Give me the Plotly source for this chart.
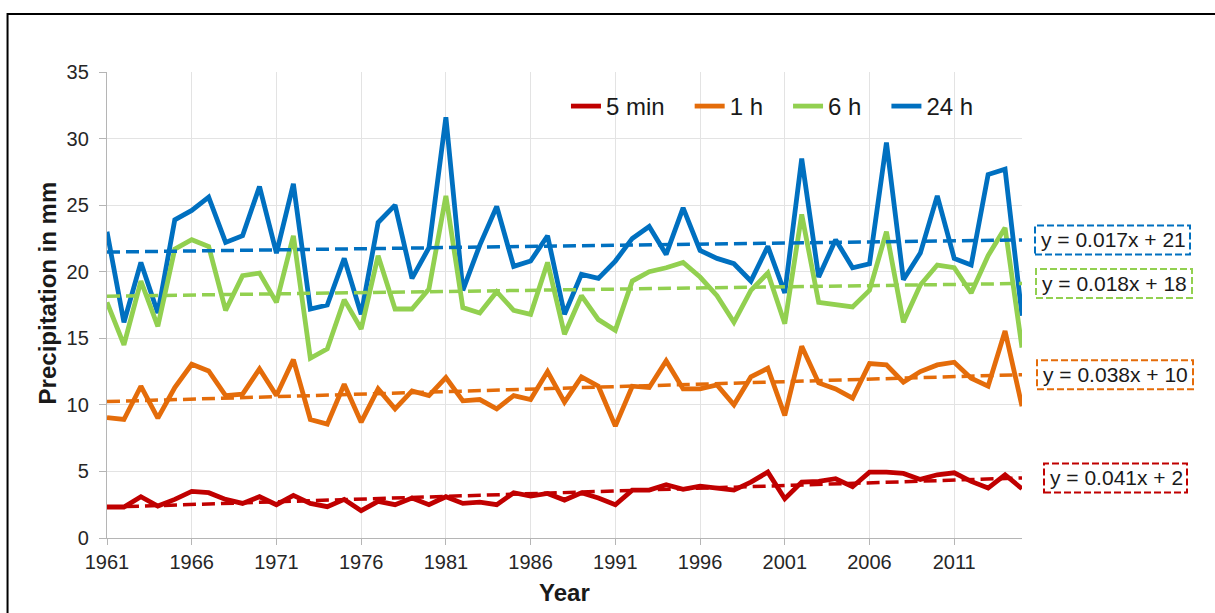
import numpy as np
import plotly.graph_objects as go

# Annual maximum precipitation by duration
years = list(range(1961, 2016))

p_5min = [2.33, 2.33, 3.1, 2.4, 2.9, 3.5, 3.4, 2.9, 2.6, 3.1,
          2.5, 3.2, 2.6, 2.35, 2.9, 2.05, 2.75, 2.5, 3.0, 2.5,
          3.1, 2.6, 2.7, 2.5, 3.4, 3.15, 3.35, 2.85, 3.4, 3.0,
          2.5, 3.6, 3.6, 4.0, 3.65, 3.9, 3.75, 3.6, 4.2, 4.95,
          2.95, 4.2, 4.25, 4.45, 3.85, 4.95, 4.95, 4.85, 4.4, 4.75,
          4.9, 4.25, 3.75, 4.75, 3.7]

p_1h = [9.05, 8.9, 11.4, 9.0, 11.3, 13.05, 12.55, 10.7, 10.8, 12.7,
        10.7, 13.4, 8.9, 8.55, 11.55, 8.7, 11.2, 9.7, 11.05, 10.7,
        12.05, 10.3, 10.4, 9.7, 10.7, 10.4, 12.5, 10.2, 12.1, 11.4,
        8.4, 11.4, 11.3, 13.3, 11.2, 11.2, 11.5, 10.0, 12.1, 12.75,
        9.2, 14.4, 11.65, 11.2, 10.5, 13.1, 13.0, 11.7, 12.5, 13.0,
        13.2, 12.0, 11.4, 15.55, 9.9]

p_6h = [17.7, 14.5, 19.3, 15.9, 21.7, 22.4, 21.9, 17.1, 19.7, 19.9,
        17.7, 22.7, 13.5, 14.2, 17.9, 15.7, 21.2, 17.2, 17.2, 18.7,
        25.7, 17.3, 16.9, 18.5, 17.1, 16.8, 20.7, 15.3, 18.2, 16.4,
        15.6, 19.3, 20.0, 20.3, 20.7, 19.6, 18.2, 16.2, 18.6, 19.9,
        16.1, 24.3, 17.7, 17.5, 17.35, 18.6, 23.0, 16.2, 19.0, 20.5,
        20.3, 18.4, 21.2, 23.3, 14.3]

p_24h = [23.0, 16.2, 20.7, 16.9, 23.9, 24.6, 25.6, 22.2, 22.7, 26.4,
         21.4, 26.6, 17.2, 17.5, 21.0, 16.8, 23.7, 25.0, 19.5, 21.8,
         31.6, 18.6, 22.0, 24.9, 20.4, 20.8, 22.7, 16.8, 19.8, 19.5,
         20.8, 22.5, 23.4, 21.3, 24.8, 21.6, 21.0, 20.6, 19.3, 21.9,
         18.4, 28.5, 19.6, 22.4, 20.3, 20.6, 29.7, 19.4, 21.4, 25.7,
         21.0, 20.5, 27.3, 27.7, 16.7]

series_names = ["5 min", "1 h", "6 h", "24 h"]
series_values = [p_5min, p_1h, p_6h, p_24h]
series_colors = ["#C00000", "#E46C0A", "#92D050", "#0070C0"]

# equation box geometry (pixels right of the plot edge): text shift, box x0, box x1
eq_boxes = [(26, 22, 165), (19, 15, 171), (18, 14, 170), (17, 13, 168)]

FONT = "Liberation Sans, Arial, sans-serif"
NBSP = "\u00a0"

fig = go.Figure()

# series drawn longest duration first so shorter ones sit on top
for k in [3, 2, 1, 0]:
    fig.add_trace(go.Scatter(
        x=years, y=series_values[k], mode="lines",
        name=series_names[k] + NBSP * 3,
        line=dict(color=series_colors[k], width=4.8),
        legendrank=k + 1,
    ))

# linear trends against the year index (1 = first year)
idx = np.arange(1, len(years) + 1)
for k in [3, 2, 1, 0]:
    slope, intercept = np.polyfit(idx, series_values[k], 1)
    trend = slope * idx + intercept
    fig.add_trace(go.Scatter(
        x=years, y=trend, mode="lines", showlegend=False, hoverinfo="skip",
        line=dict(color=series_colors[k], width=3.5, dash="13px,6px"),
    ))
    label = f"y = {slope:.3f}x + {intercept:.0f}"
    tshift, bx0, bx1 = eq_boxes[k]
    yend = float(trend[-1])
    fig.add_annotation(
        x=1, xref="paper", y=yend, yref="y", xanchor="left", yanchor="middle",
        xshift=tshift, text=label, showarrow=False,
        font=dict(family=FONT, size=21, color="#1a1a1a"),
    )
    fig.add_shape(
        type="rect", xref="paper", yref="y",
        xsizemode="pixel", ysizemode="pixel",
        xanchor=1, x0=bx0, x1=bx1, yanchor=yend, y0=-14.5, y1=14.5,
        line=dict(color=series_colors[k], width=2, dash="7px,3px"),
        fillcolor="rgba(0,0,0,0)",
    )

# outer frame
fig.add_shape(type="rect", xref="paper", yref="paper",
              x0=-0.1087, x1=1.3, y0=-0.3, y1=1.1245,
              line=dict(color="black", width=2), fillcolor="rgba(0,0,0,0)")

# axis titles
fig.add_annotation(x=-0.065, y=0.526, xref="paper", yref="paper",
                   text="<b>Precipitation in mm</b>", textangle=-90,
                   showarrow=False, xanchor="center", yanchor="middle",
                   font=dict(family=FONT, size=24, color="#1a1a1a"))
fig.add_annotation(x=0.5, y=-0.118, xref="paper", yref="paper",
                   text="<b>Year</b>", showarrow=False,
                   xanchor="center", yanchor="middle",
                   font=dict(family=FONT, size=24, color="#1a1a1a"))

fig.update_layout(
    width=1215, height=613,
    margin=dict(l=107, r=193, t=72, b=75),
    paper_bgcolor="white", plot_bgcolor="white",
    font=dict(family=FONT, size=20, color="#262626"),
    showlegend=True,
    legend=dict(orientation="h", x=0.5016, y=0.926, xanchor="left", yanchor="middle",
                font=dict(family=FONT, size=24, color="#1a1a1a"),
                bgcolor="rgba(255,255,255,0)", traceorder="normal"),
)

fig.update_xaxes(
    range=[1961, 2015], tickmode="linear", tick0=1961, dtick=5,
    showgrid=True, gridcolor="#e3e3e3", gridwidth=1,
    showline=True, linecolor="#b5b5b5", linewidth=1.3,
    ticks="outside", ticklen=6, tickcolor="#b5b5b5",
    tickfont=dict(family=FONT, size=20, color="#262626"),
    zeroline=False,
)
fig.update_yaxes(
    range=[0, 35], tickmode="linear", tick0=0, dtick=5,
    showgrid=True, gridcolor="#e3e3e3", gridwidth=1,
    showline=True, linecolor="#b5b5b5", linewidth=1.3,
    ticks="outside", ticklen=7, tickcolor="#b5b5b5",
    tickfont=dict(family=FONT, size=20, color="#262626"),
    ticklabelstandoff=6, zeroline=False,
)

fig.write_html("out.html")
